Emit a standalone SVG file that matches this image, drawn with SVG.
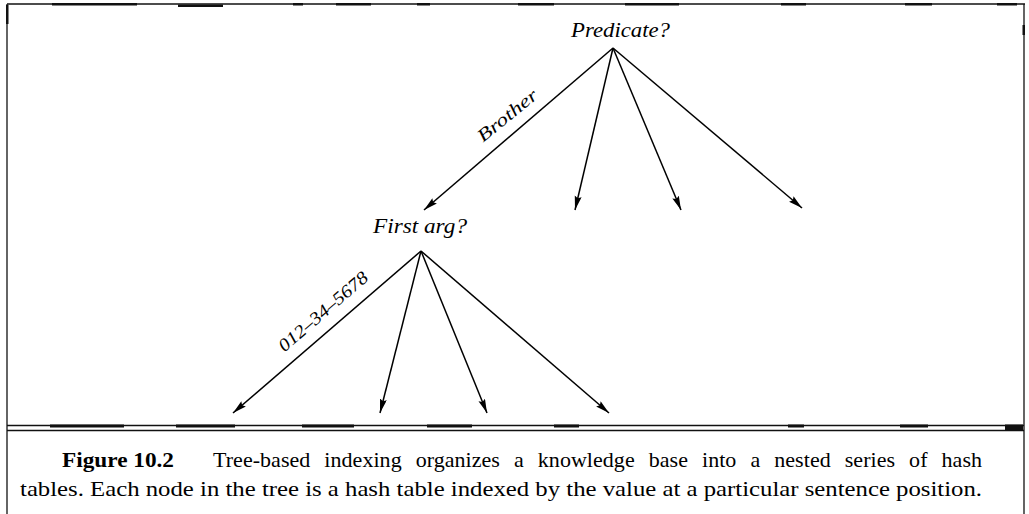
<svg xmlns="http://www.w3.org/2000/svg" width="1029" height="514" viewBox="0 0 1029 514">
  <style>
    .rule { stroke: #111; stroke-width: 1.3; fill: none; }
    .ink { fill: #111; }
    .edge { stroke: #000; stroke-width: 1.5; fill: none; marker-end: url(#head); }
    .serif { font-family: 'Liberation Serif', 'Times New Roman', Times, serif; }
    .node { font-style: italic; font-size: 20px; fill: #000; }
    .elabel { font-style: italic; font-size: 18px; fill: #000; }
    .cap { font-size: 22px; fill: #000; }
  </style>
  <defs>
    <marker id="head" markerUnits="userSpaceOnUse" markerWidth="16" markerHeight="8" refX="14" refY="3.5" orient="auto">
      <path d="M0,0 L14,3.5 L0,7 L2,3.5 Z" fill="#000"/>
    </marker>
  </defs>
  <rect width="1029" height="514" fill="#fff"/>

  <!-- frame: top rule, side borders -->
  <g id="frame">
    <line class="rule" x1="7" y1="4" x2="1025" y2="4"/>
    <line class="rule" x1="7" y1="4" x2="7" y2="514"/>
    <line class="rule" x1="1024" y1="4" x2="1024" y2="514"/>
    <rect class="ink" x="6" y="5" width="2.5" height="19"/>
    <rect class="ink" x="1022.5" y="25" width="2.5" height="10"/>
    <rect class="ink" x="52" y="3" width="85" height="2.5"/>
    <rect class="ink" x="178" y="4.5" width="45" height="2.5"/>
    <rect class="ink" x="293" y="3" width="10" height="2.5"/>
    <rect class="ink" x="336" y="3" width="35" height="2.5"/>
    <rect class="ink" x="417" y="3" width="13" height="2.5"/>
    <rect class="ink" x="518" y="3" width="36" height="2.5"/>
    <rect class="ink" x="625" y="3" width="54" height="2.5"/>
    <rect class="ink" x="781" y="3" width="25" height="2.5"/>
    <rect class="ink" x="905" y="3" width="27" height="2.5"/>
    <rect class="ink" x="997" y="3" width="20" height="2.5"/>
  </g>

  <!-- double rule above the caption -->
  <g id="caption-rule">
    <line class="rule" x1="7" y1="425.5" x2="1024" y2="425.5"/>
    <line class="rule" x1="7" y1="430.5" x2="1024" y2="430.5"/>
    <rect class="ink" x="50" y="424.5" width="74" height="3"/>
    <rect class="ink" x="176" y="424.5" width="59" height="3"/>
    <rect class="ink" x="302" y="424.5" width="52" height="3"/>
    <rect class="ink" x="427" y="424.5" width="45" height="3"/>
    <rect class="ink" x="554" y="424.5" width="25" height="3"/>
    <rect class="ink" x="788" y="424.5" width="16" height="3"/>
    <rect class="ink" x="900" y="424.5" width="28" height="3"/>
    <rect class="ink" x="1005" y="424.5" width="18" height="6"/>
  </g>

  <!-- nodes -->
  <g id="node-predicate">
    <text class="serif node" x="571" y="37" textLength="99" lengthAdjust="spacingAndGlyphs">Predicate?</text>
  </g>
  <g id="node-first-arg">
    <text class="serif node" x="373" y="233" textLength="94" lengthAdjust="spacingAndGlyphs">First arg?</text>
  </g>

  <!-- connectors -->
  <g id="connectors">
    <line class="edge" x1="613" y1="48" x2="424" y2="210"/>
    <line class="edge" x1="613" y1="48" x2="575" y2="210"/>
    <line class="edge" x1="613" y1="48" x2="681" y2="210"/>
    <line class="edge" x1="613" y1="48" x2="802" y2="208"/>
    <line class="edge" x1="421" y1="251" x2="233" y2="413"/>
    <line class="edge" x1="421" y1="251" x2="380" y2="413"/>
    <line class="edge" x1="421" y1="251" x2="487" y2="413"/>
    <line class="edge" x1="421" y1="251" x2="609" y2="413"/>
    <text class="serif elabel" text-anchor="middle" textLength="72" lengthAdjust="spacingAndGlyphs" transform="translate(511,120) rotate(-39)">Brother</text>
    <text class="serif elabel" text-anchor="middle" textLength="112" lengthAdjust="spacingAndGlyphs" transform="translate(327,316) rotate(-40.7)">012–34–5678</text>
  </g>

  <!-- caption -->
  <g id="caption">
    <text class="serif cap" x="62" y="467" font-weight="bold" textLength="112" lengthAdjust="spacingAndGlyphs">Figure 10.2</text>
    <text class="serif cap" x="213" y="467" word-spacing="8.5" textLength="769" lengthAdjust="spacing">Tree-based indexing organizes a knowledge base into a nested series of hash</text>
    <text class="serif cap" x="20" y="496" textLength="962" lengthAdjust="spacingAndGlyphs">tables. Each node in the tree is a hash table indexed by the value at a particular sentence position.</text>
  </g>
</svg>
